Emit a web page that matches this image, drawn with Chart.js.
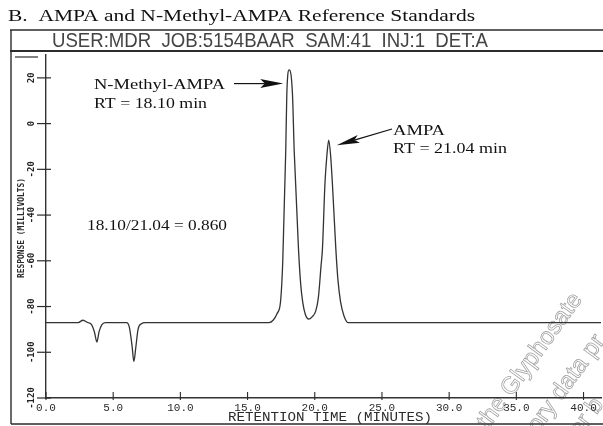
<!DOCTYPE html>
<html>
<head>
<meta charset="utf-8">
<script src="https://cdn.jsdelivr.net/npm/chart.js@4.4.1/dist/chart.umd.min.js"></script>
<style>
  html, body { margin: 0; padding: 0; background: #fff; }
  #wrap { width: 603px; height: 426px; }
</style>
</head>
<body>
<div id="wrap"><canvas id="chrom" width="603" height="426"></canvas></div>
<script>
// Trace: retention time (minutes) vs detector response (millivolts)
const retentionTime = [0, 2.4, 2.75, 3.1, 3.4, 3.6, 3.79, 3.95, 4.15, 4.4,
  6.0, 6.2, 6.4, 6.54, 6.68, 6.85, 7.1, 7.4,
  16.6, 16.9, 17.2, 17.45, 17.62, 17.84, 17.92, 18.1,
  18.34, 18.47, 18.79, 18.95, 19.1, 19.3, 19.55, 19.8,
  20.07, 20.27, 20.47, 20.57, 20.76, 20.9, 21.04,
  21.18, 21.31, 21.57, 21.72, 21.92, 22.17, 22.47, 41.3];
const response = [-87, -87, -86, -87, -88, -91, -95.5, -91, -88, -87,
  -87, -89, -97, -104, -98, -90, -87.5, -87,
  -87, -86, -83, -78, -60, -12, 13, 23.5,
  13, -12, -55, -70, -78, -83.5, -85.5, -84.5,
  -82, -76, -62, -55, -26, -14, -7.2,
  -14, -26, -55, -68, -78, -84, -87, -87];

const xTicks = [0, 5, 10, 15, 20, 25, 30, 35, 40];
const yTicks = [20, 0, -20, -40, -60, -80, -100, -120];

// Labelled peaks (retention times in minutes)
const peakNames = ['N-Methyl-AMPA', 'AMPA'];
const peakRT = [18.10, 21.04];

const title = 'B.  AMPA and N-Methyl-AMPA Reference Standards';
const runInfo = 'USER:MDR  JOB:5154BAAR  SAM:41  INJ:1  DET:A';

const points = retentionTime.map((t, i) => ({ x: t, y: response[i] }));
const ink = '#2b2b2b';

// draws text stretched/squeezed horizontally to a given width
function fitText(ctx, text, x, y, width, font, color) {
  ctx.save();
  ctx.font = font;
  const w = ctx.measureText(text).width;
  ctx.translate(x, y);
  ctx.scale(width / w, 1);
  ctx.fillStyle = color || ink;
  ctx.textAlign = 'left';
  ctx.textBaseline = 'alphabetic';
  ctx.fillText(text, 0, 0);
  ctx.restore();
}

function arrow(ctx, x0, y0, x1, y1, headLen, headHalf) {
  const a = Math.atan2(y1 - y0, x1 - x0);
  ctx.save();
  ctx.strokeStyle = '#111';
  ctx.fillStyle = '#111';
  ctx.lineWidth = 1.2;
  ctx.beginPath();
  ctx.moveTo(x0, y0);
  ctx.lineTo(x1 - Math.cos(a) * headLen * 0.8, y1 - Math.sin(a) * headLen * 0.8);
  ctx.stroke();
  ctx.translate(x1, y1);
  ctx.rotate(a);
  ctx.beginPath();
  ctx.moveTo(0, 0);
  ctx.lineTo(-headLen, -headHalf);
  ctx.lineTo(-headLen * 0.8, 0);
  ctx.lineTo(-headLen, headHalf);
  ctx.closePath();
  ctx.fill();
  ctx.restore();
}

function line(ctx, x0, y0, x1, y1, w) {
  ctx.lineWidth = w;
  ctx.beginPath();
  ctx.moveTo(x0, y0);
  ctx.lineTo(x1, y1);
  ctx.stroke();
}

const chartDecor = {
  id: 'chartDecor',
  afterDraw(chart) {
    const ctx = chart.ctx;
    const xs = chart.scales.x;
    const ys = chart.scales.y;
    const area = chart.chartArea;

    ctx.save();
    ctx.strokeStyle = ink;

    // page title and run header box
    fitText(ctx, title, 8, 21, 467, '17px "Liberation Serif", "DejaVu Serif", serif', '#111');
    line(ctx, 10, 30, 603, 30, 1.4);
    line(ctx, 10, 51, 603, 51, 2);
    line(ctx, 11, 30, 11, 424, 1.4);
    line(ctx, 11, 424, 603, 424, 1.6);
    line(ctx, 15, 57, 38, 57, 1.2);
    fitText(ctx, runInfo, 52, 47, 436, '21px "Liberation Sans", Arial, sans-serif', '#444');

    // y ticks crossing the axis, rotated labels
    ctx.fillStyle = '#222';
    yTicks.forEach(v => {
      const y = ys.getPixelForValue(v);
      line(ctx, area.left - 9, y, area.left + 5, y, 1.2);
      ctx.save();
      ctx.translate(area.left - 14, y);
      ctx.rotate(-Math.PI / 2);
      ctx.font = 'bold 9px "DejaVu Sans Mono", monospace';
      ctx.textAlign = 'center';
      ctx.textBaseline = 'middle';
      ctx.fillText(String(v), 0, 0);
      ctx.restore();
    });

    // x ticks pointing up from the axis
    xTicks.forEach(v => {
      const x = xs.getPixelForValue(v);
      line(ctx, x, area.bottom - 6, x, area.bottom + 2, 1.1);
    });

    // axis titles
    fitText(ctx, 'RETENTION TIME (MINUTES)', 228, 421, 204, '12px "Liberation Mono", monospace', ink);
    ctx.save();
    ctx.translate(24, 278);
    ctx.rotate(-Math.PI / 2);
    fitText(ctx, 'RESPONSE (MILLIVOLTS)', 0, 0, 100, 'bold 8px "DejaVu Sans Mono", monospace', ink);
    ctx.restore();

    // peak annotations
    const serif = '"Liberation Serif", "DejaVu Serif", serif';
    fitText(ctx, peakNames[0], 94, 89, 131, '15px ' + serif, '#111');
    fitText(ctx, 'RT = ' + peakRT[0].toFixed(2) + ' min', 94, 108, 113, '15px ' + serif, '#111');
    arrow(ctx, 234, ys.getPixelForValue(17.5), xs.getPixelForValue(peakRT[0]) - 6, ys.getPixelForValue(17.5), 23, 4.5);

    fitText(ctx, peakNames[1], 393, 135, 52, '15px ' + serif, '#111');
    fitText(ctx, 'RT = ' + peakRT[1].toFixed(2) + ' min', 393, 153, 114, '15px ' + serif, '#111');
    arrow(ctx, 392, 129, xs.getPixelForValue(peakRT[1]) + 8, ys.getPixelForValue(-9.5), 23, 4);

    const ratio = peakRT[0].toFixed(2) + '/' + peakRT[1].toFixed(2) + ' = ' + (peakRT[0] / peakRT[1]).toFixed(3);
    fitText(ctx, ratio, 87, 230, 140, '15px ' + serif, '#111');

    // faint outlined stamp text in the corner
    ctx.strokeStyle = 'rgba(70,70,70,0.5)';
    ctx.lineWidth = 0.8;
    ctx.font = '24px "Liberation Sans", Arial, sans-serif';
    const ang = -54 * Math.PI / 180;
    [['the Glyphosate', 488, 430], ['ory data pr', 538, 434], ['or b', 580, 438]].forEach(([s, x, y]) => {
      ctx.save();
      ctx.translate(x, y);
      ctx.rotate(ang);
      ctx.strokeText(s, 0, 0);
      ctx.restore();
    });

    ctx.restore();
  }
};

new Chart(document.getElementById('chrom'), {
  type: 'line',
  data: {
    datasets: [{
      data: points,
      borderColor: '#333',
      borderWidth: 1.3,
      pointRadius: 0,
      fill: false,
      cubicInterpolationMode: 'monotone'
    }]
  },
  options: {
    responsive: false,
    animation: false,
    devicePixelRatio: 1,
    layout: { padding: { left: 12, top: 55, right: 2, bottom: 0 } },
    plugins: { legend: { display: false }, tooltip: { enabled: false }, title: { display: false } },
    scales: {
      x: {
        type: 'linear',
        min: 0,
        max: 41.3,
        afterBuildTicks: s => { s.ticks = xTicks.map(v => ({ value: v })); },
        afterFit: s => { s.height = 28; },
        grid: { display: false, drawTicks: false },
        border: { display: true, color: '#333', width: 1.6 },
        ticks: {
          color: ink,
          padding: 3,
          maxRotation: 0,
          autoSkip: false,
          font: { family: '"Liberation Mono", monospace', size: 11 },
          callback: v => Number(v).toFixed(1)
        }
      },
      y: {
        type: 'linear',
        min: -120,
        max: 30,
        afterBuildTicks: s => { s.ticks = yTicks.map(v => ({ value: v })); },
        afterFit: s => { s.width = 34; },
        grid: { display: false, drawTicks: false },
        border: { display: true, color: '#333', width: 1.4 },
        ticks: { display: false }
      }
    }
  },
  plugins: [chartDecor]
});
</script>
</body>
</html>
